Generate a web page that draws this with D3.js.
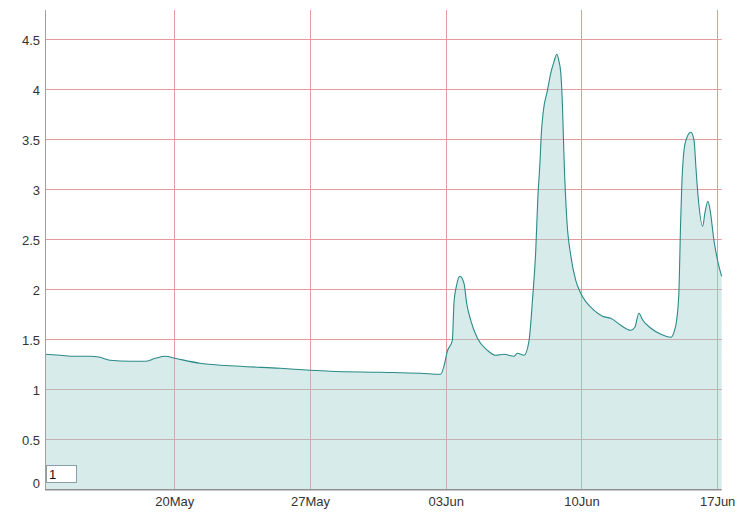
<!DOCTYPE html>
<html>
<head>
<meta charset="utf-8">
<script src="https://cdn.jsdelivr.net/npm/d3@7"></script>
<style>
  html, body { margin: 0; padding: 0; background: #fff; }
  svg { display: block; }
  text { font-family: "Liberation Sans", Arial, sans-serif; }
</style>
</head>
<body>
<svg id="chart" width="750" height="519"></svg>
<script>
// ---- data ----
const times = [
  "2013-05-13T08:00","2013-05-14T03:00","2013-05-14T21:00","2013-05-15T16:00","2013-05-16T04:00",
  "2013-05-16T16:30","2013-05-17T17:30","2013-05-18T12:00","2013-05-19T00:30","2013-05-19T13:00",
  "2013-05-20T01:00","2013-05-21T08:00","2013-05-23T09:45","2013-05-25T11:00","2013-05-27T00:30",
  "2013-05-28T01:00","2013-05-30T15:00","2013-06-01T16:45","2013-06-02T17:45","2013-06-02T21:50",
  "2013-06-03T02:00","2013-06-03T08:15","2013-06-03T10:15","2013-06-03T13:30","2013-06-03T17:40",
  "2013-06-03T22:40","2013-06-04T02:00","2013-06-04T07:00","2013-06-04T15:15","2013-06-05T03:40",
  "2013-06-05T14:00","2013-06-06T00:15","2013-06-06T12:15","2013-06-06T16:50","2013-06-07T01:00",
  "2013-06-07T07:15","2013-06-07T11:25","2013-06-07T15:30","2013-06-07T18:00","2013-06-07T20:50",
  "2013-06-07T22:20","2013-06-08T01:00","2013-06-08T06:00","2013-06-08T10:00","2013-06-08T13:50",
  "2013-06-08T17:30","2013-06-08T20:00","2013-06-08T22:30","2013-06-09T00:35","2013-06-09T02:35",
  "2013-06-09T06:00","2013-06-09T11:00","2013-06-09T17:00","2013-06-09T23:15","2013-06-10T15:45",
  "2013-06-11T02:10","2013-06-11T12:25","2013-06-12T00:50","2013-06-12T13:15","2013-06-12T18:10",
  "2013-06-12T23:10","2013-06-13T04:05","2013-06-13T14:00","2013-06-14T02:25","2013-06-14T14:50",
  "2013-06-14T18:30","2013-06-14T21:55","2013-06-15T00:50","2013-06-15T02:35","2013-06-15T04:05",
  "2013-06-15T07:00","2013-06-15T10:40","2013-06-15T15:35","2013-06-15T19:25","2013-06-15T21:55",
  "2013-06-16T00:20","2013-06-16T06:05","2013-06-16T09:00","2013-06-16T12:40","2013-06-16T15:10",
  "2013-06-16T20:05","2013-06-17T01:05","2013-06-17T05:40"
];
const values = [
  1.35,1.34,1.33,1.33,1.32,
  1.29,1.28,1.28,1.31,1.33,
  1.31,1.26,1.23,1.21,1.19,
  1.18,1.17,1.16,1.15,1.23,
  1.38,1.49,1.86,2.04,2.13,
  2.06,1.86,1.69,1.51,1.39,
  1.34,1.35,1.33,1.36,1.34,
  1.49,1.89,2.39,2.90,3.29,
  3.55,3.79,3.99,4.16,4.27,
  4.35,4.29,4.16,3.83,3.29,
  2.69,2.33,2.09,1.96,1.79,
  1.73,1.71,1.64,1.59,1.62,
  1.76,1.69,1.61,1.55,1.52,
  1.57,1.69,2.00,2.60,3.00,
  3.39,3.52,3.57,3.49,3.20,
  2.94,2.63,2.77,2.88,2.80,
  2.49,2.27,2.13
];
const yTicks = [0, 0.5, 1, 1.5, 2, 2.5, 3, 3.5, 4, 4.5];
const xTickDates = ["2013-05-20", "2013-05-27", "2013-06-03", "2013-06-10", "2013-06-17"];
const boxLabel = "1";

// ---- chart ----
const parse = d3.utcParse("%Y-%m-%dT%H:%M");
const parseDay = d3.utcParse("%Y-%m-%d");
const data = times.map((t, i) => ({ t: parse(t), v: values[i] }));

const svg = d3.select("#chart");
const m = { left: 45, right: 28.3, top: 10, bottom: 29.7 };
const W = 750, H = 519;

const x = d3.scaleUtc().domain(d3.extent(data, d => d.t)).range([m.left, W - m.right]);
const y = d3.scaleLinear().domain([0, 4.793]).range([H - m.bottom, m.top]);

const area = d3.area().x(d => x(d.t)).y0(y(0)).y1(d => y(d.v)).curve(d3.curveMonotoneX);
const line = d3.line().x(d => x(d.t)).y(d => y(d.v)).curve(d3.curveMonotoneX);

// grid (under the translucent fill)
const gridColor = "#e49a9a";
const g = svg.append("g");
g.selectAll("line.h").data(yTicks.filter(d => d > 0)).join("line")
  .attr("class", "h")
  .attr("x1", m.left).attr("x2", W - m.right)
  .attr("y1", d => Math.round(y(d)) + 0.5).attr("y2", d => Math.round(y(d)) + 0.5)
  .attr("stroke", gridColor).attr("stroke-width", 1);
g.selectAll("line.v").data(xTickDates.map(parseDay)).join("line")
  .attr("class", "v")
  .attr("x1", d => Math.round(x(d)) + 0.5).attr("x2", d => Math.round(x(d)) + 0.5)
  .attr("y1", m.top).attr("y2", H - m.bottom)
  .attr("stroke", gridColor).attr("stroke-width", 1);

svg.append("path").datum(data).attr("d", area)
  .attr("fill", "#9fd0cd").attr("fill-opacity", 0.42);

svg.append("path").datum(data).attr("d", line)
  .attr("fill", "none").attr("stroke", "#2a8a88").attr("stroke-width", 1.1);

// axes
const yAxis = d3.axisLeft(y).tickValues(yTicks).tickSize(0).tickPadding(5).tickFormat(d3.format("~g"));
const ya = svg.append("g").attr("transform", `translate(${m.left},0)`).call(yAxis);
ya.select(".domain").attr("stroke", "#a0a0a0").attr("d", `M0.5,${m.top}V${H - m.bottom}`);
ya.selectAll("text").attr("font-size", 13).attr("fill", "#333")
  .attr("font-family", "'Liberation Sans', Arial, sans-serif")
  .attr("dy", d => d === 0 ? "-0.15em" : "0.38em");

const xAxis = d3.axisBottom(x).tickValues(xTickDates.map(parseDay)).tickSize(0).tickPadding(7)
  .tickFormat(d3.utcFormat("%d%b"));
const xa = svg.append("g").attr("transform", `translate(0,${H - m.bottom})`).call(xAxis);
xa.select(".domain").attr("stroke", "#909090").attr("stroke-width", 1.5)
  .attr("d", `M${m.left},0.5H${W - m.right}`);
xa.selectAll("text").attr("font-size", 13).attr("fill", "#333")
  .attr("font-family", "'Liberation Sans', Arial, sans-serif");

// small label box
svg.append("rect").attr("x", 46.5).attr("y", 465.5).attr("width", 30).attr("height", 17)
  .attr("fill", "#fff").attr("stroke", "#8a9ea6");
svg.append("text").attr("x", 49).attr("y", 478.5).attr("font-size", 13).attr("fill", "#111")
  .text(boxLabel);
</script>
</body>
</html>
